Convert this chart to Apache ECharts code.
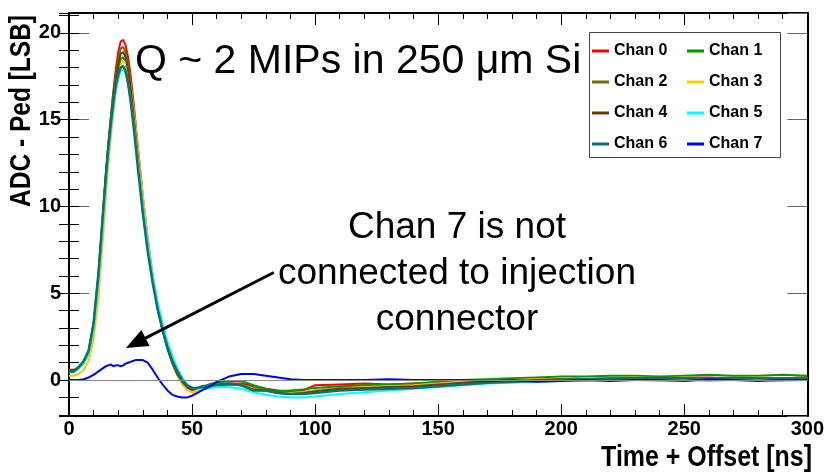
<!DOCTYPE html>
<html>
<head>
<meta charset="utf-8">
<script src="https://cdn.jsdelivr.net/npm/echarts@6/dist/echarts.min.js"></script>
<style>
  html, body { margin: 0; padding: 0; background: #fff; }
  #chart { width: 827px; height: 472px; }
</style>
</head>
<body>
<div id="chart"></div>
<script>
// Sample times (ns): denser around the pulse peak
const times = [0,2,4,6,8,10,12,14,15,16,17,18,19,20,21,22,23,24,25,26,27,28,30,32,34,36,38,40,42,44,46,48,50,52,54,56,58,60,65,70,75,80,85,90,95,100,110,120,130,140,150,160,170,180,190,200,210,220,230,240,250,260,270,280,290,300];

// ADC - pedestal per channel (LSB), one value per sample time
const chan0 = [0.6,0.6,0.7,1.0,1.5,2.9,5.8,9.7,11.7,13.5,15.1,16.6,17.9,18.9,19.5,19.6,19.3,18.6,17.6,16.3,14.9,13.4,10.6,8.1,6.0,4.3,3.0,1.9,1.0,0.3,-0.2,-0.55,-0.7,-0.6,-0.45,-0.4,-0.35,-0.3,-0.2,-0.2,-0.35,-0.5,-0.6,-0.65,-0.6,-0.3,-0.25,-0.2,-0.25,-0.2,-0.15,-0.05,0.0,0.0,0.05,0.05,0.1,0.1,0.15,0.1,0.15,0.15,0.1,0.15,0.1,0.15];
const chan1 = [0.5,0.5,0.7,1.05,1.65,3.1,6.0,9.8,11.7,13.3,14.7,15.9,17.0,17.9,18.5,18.6,18.3,17.6,16.6,15.4,14.0,12.6,9.9,7.6,5.7,4.1,2.9,1.85,1.0,0.35,-0.1,-0.4,-0.5,-0.45,-0.35,-0.3,-0.2,-0.15,-0.05,-0.05,-0.3,-0.5,-0.65,-0.6,-0.55,-0.45,-0.35,-0.3,-0.25,-0.2,-0.1,0.0,0.05,0.1,0.15,0.2,0.2,0.25,0.25,0.2,0.25,0.3,0.25,0.25,0.3,0.25];
const chan2 = [0.5,0.5,0.7,1.05,1.65,3.2,6.1,10.0,12.0,13.7,15.2,16.5,17.6,18.5,19.1,19.2,18.9,18.2,17.2,15.9,14.5,13.0,10.2,7.8,5.8,4.2,2.9,1.8,0.95,0.3,-0.15,-0.45,-0.6,-0.55,-0.45,-0.4,-0.35,-0.3,-0.2,-0.25,-0.45,-0.55,-0.7,-0.75,-0.7,-0.6,-0.45,-0.4,-0.35,-0.3,-0.2,-0.1,-0.05,0.0,0.05,0.05,0.1,0.1,0.1,0.15,0.1,0.1,0.15,0.1,0.1,0.15];
const chan3 = [0.25,0.25,0.35,0.6,1.1,2.3,4.8,8.5,10.5,12.4,14.0,15.4,16.6,17.5,18.1,18.4,18.3,17.8,17.0,15.9,14.7,13.3,10.6,8.1,6.0,4.3,3.0,1.9,1.0,0.3,-0.2,-0.55,-0.7,-0.6,-0.5,-0.45,-0.4,-0.3,-0.2,-0.3,-0.5,-0.65,-0.75,-0.75,-0.7,-0.6,-0.5,-0.4,-0.35,-0.3,-0.2,-0.1,-0.05,0.0,0.05,0.05,0.1,0.1,0.15,0.1,0.15,0.1,0.1,0.15,0.1,0.1];
const chan4 = [0.55,0.55,0.75,1.1,1.7,3.2,6.1,9.9,11.8,13.5,14.9,16.2,17.3,18.2,18.8,18.9,18.6,17.9,16.9,15.6,14.2,12.8,10.0,7.7,5.8,4.2,2.9,1.85,1.0,0.35,-0.1,-0.4,-0.55,-0.5,-0.45,-0.4,-0.35,-0.3,-0.25,-0.3,-0.55,-0.6,-0.75,-0.8,-0.75,-0.65,-0.5,-0.45,-0.4,-0.35,-0.25,-0.15,-0.1,-0.05,0.0,0.05,0.05,0.1,0.1,0.1,0.1,0.1,0.1,0.1,0.1,0.1];
const chan5 = [0.45,0.45,0.65,0.95,1.5,2.9,5.6,9.3,11.2,12.9,14.4,15.6,16.6,17.3,17.8,17.9,17.7,17.1,16.2,15.1,13.9,12.6,10.1,7.9,6.0,4.5,3.3,2.2,1.4,0.7,0.15,-0.25,-0.45,-0.5,-0.5,-0.5,-0.45,-0.4,-0.4,-0.5,-0.7,-0.85,-0.95,-1.0,-1.0,-0.95,-0.8,-0.7,-0.6,-0.5,-0.4,-0.3,-0.2,-0.15,-0.1,-0.05,-0.05,0.0,0.0,-0.05,0.0,-0.05,0.0,0.0,-0.05,0.0];
const chan6 = [0.5,0.5,0.75,1.1,1.7,3.3,6.2,10.0,11.8,13.4,14.8,16.0,17.0,17.6,18.0,18.1,17.8,17.1,16.1,14.9,13.6,12.2,9.6,7.4,5.6,4.1,2.9,1.9,1.1,0.5,0.0,-0.3,-0.45,-0.45,-0.4,-0.35,-0.3,-0.25,-0.2,-0.3,-0.6,-0.6,-0.75,-0.8,-0.8,-0.75,-0.6,-0.55,-0.5,-0.45,-0.35,-0.25,-0.15,-0.1,-0.05,0.0,0.05,0.05,0.1,0.1,0.1,0.05,0.1,0.1,0.05,0.1];
const chan7 = [0.0,0.0,0.0,0.05,0.15,0.3,0.5,0.7,0.8,0.85,0.9,0.8,0.85,0.85,0.8,0.85,0.95,1.0,1.05,1.1,1.15,1.15,1.15,1.0,0.6,0.15,-0.25,-0.6,-0.85,-0.95,-1.0,-1.0,-0.9,-0.75,-0.6,-0.45,-0.3,-0.1,0.2,0.35,0.35,0.25,0.15,0.05,0.0,0.0,0.0,0.0,0.05,0.0,0.0,0.0,-0.05,0.0,-0.1,-0.05,0.0,-0.05,0.0,0.0,-0.05,0.05,0.0,-0.05,0.0,0.0];

const channelNames = ['Chan 0','Chan 1','Chan 2','Chan 3','Chan 4','Chan 5','Chan 6','Chan 7'];
const channelData = [chan0, chan1, chan2, chan3, chan4, chan5, chan6, chan7];
const channelColors = ['#ff0000','#009a00','#6e6e00','#ffcc00','#6b3a0a','#00ffff','#0f6e6e','#0000ff'];

const xTicks = { min: 0, max: 300, interval: 50 };
const yRange = { min: -2.07, max: 21.15 };

// Arrow pointing at the channel 7 trace (data coordinates)
const arrowFrom = [83.2, 6.2];
const arrowTo = [27.1, 2.13];

const sans = "'Liberation Sans', Arial, sans-serif";

const chart = echarts.init(document.getElementById('chart'), null, { renderer: 'canvas' });

const series = channelNames.map((name, i) => {
  const s = {
    name: name,
    type: 'line',
    xAxisIndex: 0,
    yAxisIndex: 0,
    showSymbol: false,
    symbol: 'none',
    animation: false,
    clip: true,
    color: channelColors[i],
    lineStyle: { width: i === 6 ? 2.5 : 2, color: channelColors[i] },
    data: times.map((t, k) => [t, channelData[i][k]])
  };
  if (i === 0) {
    s.markLine = {
      silent: true, animation: false, symbol: ['none', 'none'],
      label: { show: false },
      lineStyle: { color: '#8a8a8a', width: 1, type: 'solid' },
      data: [{ yAxis: 0 }]
    };
  }
  if (i === 7) {
    s.markLine = {
      silent: true, animation: false,
      label: { show: false },
      lineStyle: { color: '#000', width: 3, type: 'solid' },
      data: [[
        { coord: arrowFrom, symbol: 'none' },
        { coord: arrowTo, symbol: 'triangle', symbolSize: [18, 22], itemStyle: { color: '#000' } }
      ]]
    };
  }
  return s;
});

function xAxisDef(position, showLabels) {
  return {
    type: 'value', position: position,
    min: xTicks.min, max: xTicks.max, interval: xTicks.interval,
    axisLine: { show: true, onZero: false, lineStyle: { color: '#000', width: 2 } },
    axisTick: { show: true, inside: true, length: 12, lineStyle: { color: '#000', width: 1 } },
    minorTick: { show: true, splitNumber: 5, length: 6, lineStyle: { color: '#000', width: 1 } },
    axisLabel: {
      show: showLabels, margin: 3, color: '#000',
      fontFamily: sans, fontWeight: 'bold', fontSize: 20
    },
    splitLine: { show: false }
  };
}

function yMajorDef(position, showLabels) {
  return {
    type: 'value', position: position,
    min: yRange.min, max: yRange.max, splitNumber: 5,
    axisLine: { show: true, onZero: false, lineStyle: { color: '#000', width: 2 } },
    axisTick: { show: true, inside: true, length: 20, lineStyle: { color: '#666', width: 1 } },
    axisLabel: {
      show: showLabels, margin: 8, color: '#000',
      showMinLabel: false, showMaxLabel: false,
      fontFamily: sans, fontWeight: 'bold', fontSize: 20
    },
    splitLine: { show: false }
  };
}

function yMinorDef(position) {
  return {
    type: 'value', position: position,
    min: yRange.min, max: yRange.max, splitNumber: 23,
    axisLine: { show: false },
    axisTick: { show: true, inside: true, length: 10, lineStyle: { color: '#000', width: 1 } },
    axisLabel: { show: false },
    splitLine: { show: false }
  };
}

const legendText = { fontFamily: sans, fontWeight: 'bold', fontSize: 16, color: '#000', lineHeight: 16 };

chart.setOption({
  animation: false,
  backgroundColor: '#fff',
  grid: { left: 69, right: 8, top: 13, bottom: 56, containLabel: false },
  xAxis: [xAxisDef('bottom', true), xAxisDef('top', false)],
  yAxis: [yMajorDef('left', true), yMinorDef('left'), yMajorDef('right', false), yMinorDef('right')],
  legend: [
    {
      data: ['Chan 0', 'Chan 2', 'Chan 4', 'Chan 6'],
      orient: 'vertical', left: 592, top: 43, padding: 0,
      itemWidth: 17, itemHeight: 3, itemGap: 15, icon: 'rect',
      selectedMode: false, textStyle: legendText
    },
    {
      data: ['Chan 1', 'Chan 3', 'Chan 5', 'Chan 7'],
      orient: 'vertical', left: 687, top: 43, padding: 0,
      itemWidth: 17, itemHeight: 3, itemGap: 15, icon: 'rect',
      selectedMode: false, textStyle: legendText
    }
  ],
  graphic: [
    {
      type: 'rect', z: 1, silent: true,
      shape: { x: 589.5, y: 32.5, width: 191, height: 125 },
      style: { fill: '#fff', stroke: '#444', lineWidth: 1 }
    },
    {
      type: 'text', z: 5, silent: true, x: 135, y: 62,
      style: {
        text: 'Q ~ 2 MIPs in 250 μm Si', fontFamily: sans, fontSize: 41, fill: '#000',
        align: 'left', verticalAlign: 'middle'
      }
    },
    {
      type: 'text', z: 5, silent: true,
      x: 457, y: 274,
      style: {
        text: 'Chan 7 is not\nconnected to injection\nconnector',
        fontFamily: sans, fontSize: 37, lineHeight: 46, fill: '#000',
        align: 'center', verticalAlign: 'middle'
      }
    },
    {
      type: 'text', z: 5, silent: true,
      x: 812, y: 458, scaleX: 0.86,
      style: {
        text: 'Time + Offset [ns]', fontFamily: sans, fontWeight: 'bold', fontSize: 29,
        fill: '#000', align: 'right', verticalAlign: 'middle'
      }
    },
    {
      type: 'text', z: 5, silent: true,
      x: 22, y: 15, rotation: Math.PI / 2, scaleX: 0.845,
      style: {
        text: 'ADC - Ped [LSB]', fontFamily: sans, fontWeight: 'bold', fontSize: 29,
        fill: '#000', align: 'right', verticalAlign: 'middle'
      }
    }
  ],
  series: series
});
</script>
</body>
</html>
